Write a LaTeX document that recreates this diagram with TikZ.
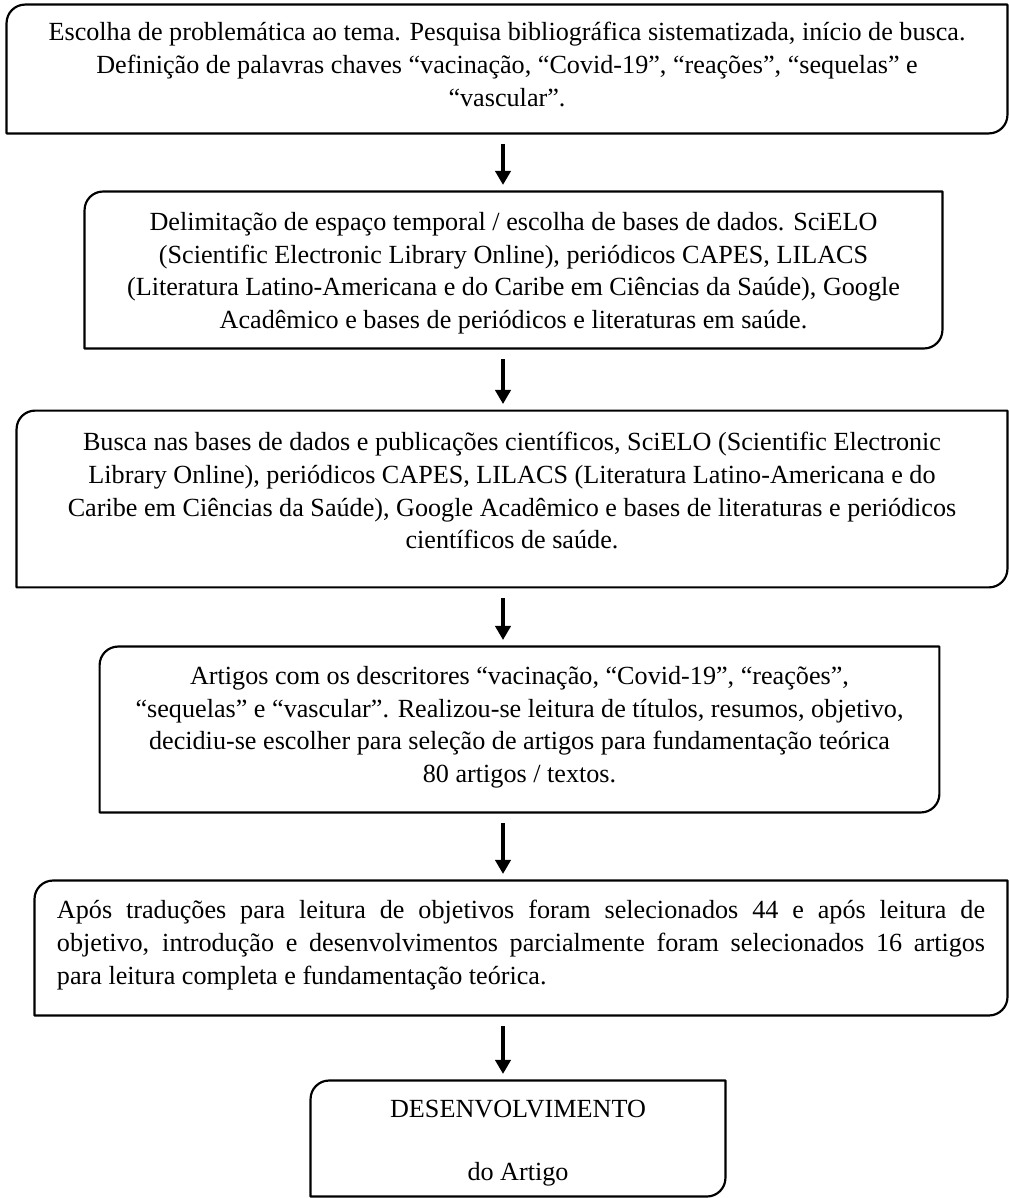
\documentclass[tikz,border=0pt]{standalone}
\usepackage{fontspec}
\setmainfont{Liberation Serif}
\usepackage{tikz}
\usetikzlibrary{arrows.meta, positioning}

% contorno com cantos arredondados na diagonal (sup. esq. e inf. dir.)
\newcommand{\moldura}[1]{%
  \draw[contorno] ([yshift=-8.5pt]#1.north west) arc[start angle=180, end angle=90, radius=8.5pt]
    -- (#1.north east) -- ([yshift=8.5pt]#1.south east) arc[start angle=0, end angle=-90, radius=8.5pt]
    -- (#1.south west) -- cycle;}

\begin{document}
\begin{tikzpicture}[
    x=0.4587pt, y=-0.4587pt,
    quadro/.style={rectangle, inner sep=0pt},
    texto/.style={anchor=north, inner sep=0pt, align=center, font=\fontsize{12pt}{15pt}\selectfont},
    contorno/.style={line width=1pt, line join=round},
    seta/.style={-{Triangle[width=7pt, length=6.5pt]}, line width=1.8pt, shorten <=5pt, shorten >=3pt}
]
\useasboundingbox (0,0) rectangle (1009,1198);
\coordinate (eixo) at (503,0);

% Caixas
\node[quadro, minimum width=458.7pt, minimum height=58.7pt] (q1) at (507,69) {};
\node[quadro, minimum width=393.1pt, minimum height=71.6pt] (q2) at (513.5,270) {};
\node[quadro, minimum width=454.1pt, minimum height=80.7pt] (q3) at (512,499) {};
\node[quadro, minimum width=384.8pt, minimum height=75.7pt] (q4) at (519.5,729.5) {};
\node[quadro, minimum width=445.9pt, minimum height=61.5pt] (q5) at (521,948) {};
\node[quadro, minimum width=189.9pt, minimum height=52.8pt] (q6) at (518,1138.5) {};

\moldura{q1}
\moldura{q2}
\moldura{q3}
\moldura{q4}
\moldura{q5}
\moldura{q6}

% Textos
\node[texto] (t1) at (507,22) {Escolha de problemática ao tema. Pesquisa bibliográfica sistematizada, início de busca.\\Definição de palavras chaves “vacinação, “Covid-19”, “reações”, “sequelas” e\\“vascular”.};
\node[texto] (t2) at (513.5,212) {Delimitação de espaço temporal / escolha de bases de dados. SciELO\\(Scientific Electronic Library Online), periódicos CAPES, LILACS\\(Literatura Latino-Americana e do Caribe em Ciências da Saúde), Google\\Acadêmico e bases de periódicos e literaturas em saúde.};
\node[texto] (t3) at (512,432) {Busca nas bases de dados e publicações científicos, SciELO (Scientific Electronic\\Library Online), periódicos CAPES, LILACS (Literatura Latino-Americana e do\\Caribe em Ciências da Saúde), Google Acadêmico e bases de literaturas e periódicos\\científicos de saúde.};
\node[texto] (t4) at (519.5,666) {Artigos com os descritores “vacinação, “Covid-19”, “reações”,\\“sequelas” e “vascular”. Realizou-se leitura de títulos, resumos, objetivo,\\decidiu-se escolher para seleção de artigos para fundamentação teórica\\80 artigos / textos.};
\node[texto, text width=425.7pt, align=justify] (t5) at (521,900) {Após traduções para leitura de objetivos foram selecionados 44 e após leitura de\linebreak objetivo, introdução e desenvolvimentos parcialmente foram selecionados 16 artigos\linebreak para leitura completa e fundamentação teórica.};
\node[texto] (t6) at (518,1100) {DESENVOLVIMENTO\\[14pt]do Artigo};

% Setas
\draw[seta] (q1.south -| eixo) -- (q2.north -| eixo);
\draw[seta] (q2.south -| eixo) -- (q3.north -| eixo);
\draw[seta] (q3.south -| eixo) -- (q4.north -| eixo);
\draw[seta] (q4.south -| eixo) -- (q5.north -| eixo);
\draw[seta] (q5.south -| eixo) -- (q6.north -| eixo);

\end{tikzpicture}
\end{document}
